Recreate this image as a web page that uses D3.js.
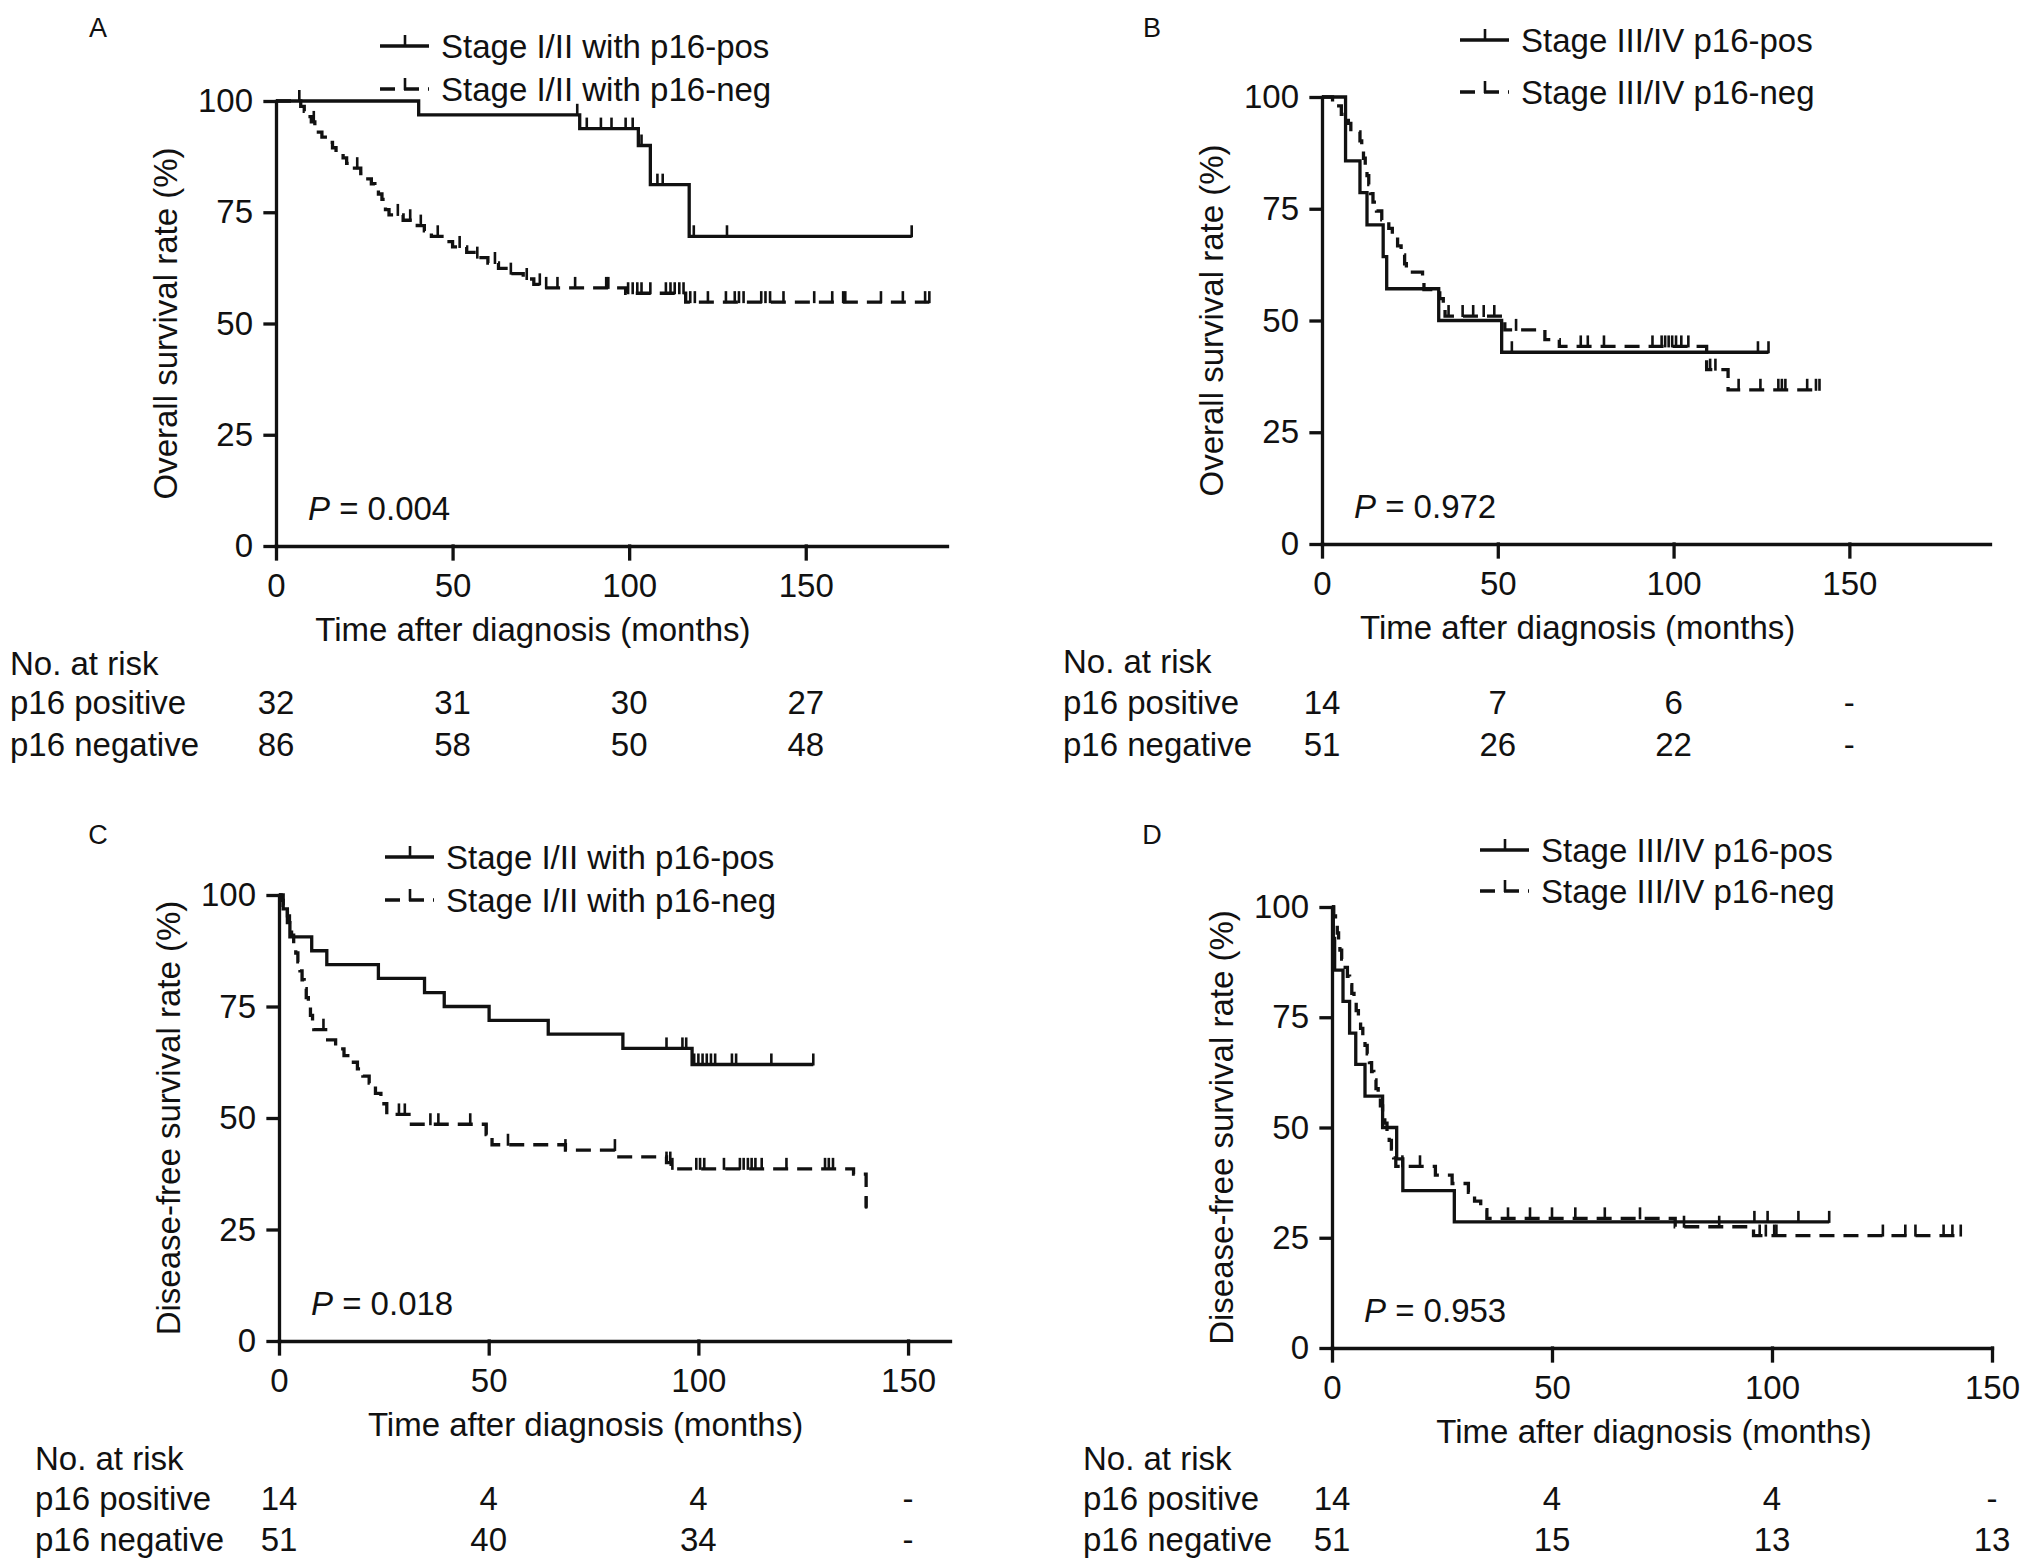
<!DOCTYPE html>
<html>
<head>
<meta charset="utf-8">
<script src="https://cdn.jsdelivr.net/npm/d3@7"></script>
<style>
  html, body { margin: 0; padding: 0; background: #fff; }
  svg { display: block; font-family: 'Liberation Sans', Arial, sans-serif; }
  .km-axis path, .km-axis line { stroke: #111; stroke-width: 3.3; stroke-linecap: square; }
  .km-axis text { font-size: 33px; fill: #111; font-family: 'Liberation Sans', Arial, sans-serif; }
  .km-text { font-size: 33px; fill: #111; }
  .km-letter { font-size: 27px; fill: #111; }
  .km-curve { fill: none; stroke: #111; stroke-width: 3.3; }
  .km-censor { stroke: #111; stroke-width: 2.6; }
</style>
</head>
<body>
<div id="chart"></div>
<script>
  'use strict';

  // ─── Data ────────────────────────────────────────────────────────────────────

  const X_TICKS = [0, 50, 100, 150];
  const Y_TICKS = [0, 25, 50, 75, 100];
  const AT_RISK_TIMES = [0, 50, 100, 150];
  const GROUP_NAMES = ['p16 positive', 'p16 negative'];

  // [months, survival % after the event]
  const A_POS_STEPS = [[40.4, 96.9], [86, 93.8], [102.6, 90.0], [106, 81.2], [117, 69.6]];
  const A_POS_CENSOR = [6.6, 85.3, 88, 92, 95, 99, 101, 103.5, 108, 109.5, 118.3, 127.7, 180];
  const A_NEG_STEPS = [
    [7, 98.8], [8, 97.7], [9, 96.5], [10, 95.3], [11, 94.2], [12, 93.0], [13, 91.9], [15, 90.7],
    [16, 89.5], [17, 88.4], [19, 87.2], [20, 86.0], [21, 84.9], [24, 83.7], [26, 82.5], [27, 81.4],
    [28, 80.2], [29, 79.1], [30, 77.9], [31, 75.6], [32, 74.4], [36, 73.2], [40, 72.0], [42, 70.8],
    [44, 69.6], [47, 68.4], [50, 67.2], [54, 66.0], [57, 64.8], [60, 63.6], [63, 62.4], [66, 61.2],
    [70, 60.0], [73, 58.8], [76, 58.0], [99, 56.8], [116, 54.8],
  ];
  const A_NEG_CENSOR = [
    10.7, 23, 34.5, 38, 41, 45.8, 52, 57, 62, 66.5, 71, 74.7, 76.5, 79.7, 84.7, 93.5, 94.1, 99.7,
    101, 102.3, 103.5, 106, 110.4, 111.7, 112.9, 114.2, 115.4, 117.3, 118.6, 122.3, 127.4, 129.9,
    131.1, 132.4, 137.4, 138.6, 139.9, 143.7, 152.4, 157.5, 160.6, 161.2, 171.3, 177.5, 183.8, 185,
  ];

  const B_POS_STEPS = [[6.7, 85.7], [10.8, 78.6], [12.8, 71.4], [17.4, 64.3], [18.4, 57.1], [33.2, 50.0], [51.1, 42.9]];
  const B_POS_CENSOR = [54, 124, 127];
  const B_NEG_STEPS = [
    [3, 98.0], [5.5, 96.1], [7.5, 94.1], [8.2, 92.2], [10.8, 90.2], [11.3, 88.2], [11.8, 86.3],
    [12.3, 84.3], [12.8, 82.4], [13.3, 80.4], [13.8, 78.4], [14.5, 76.5], [15.5, 74.5], [17, 72.5],
    [19, 70.6], [20, 68.6], [21.5, 66.7], [22.5, 64.7], [23.5, 62.7], [24, 60.8], [28.6, 58.8],
    [29, 56.9], [33.5, 54.9], [34.5, 52.9], [35, 51.0], [52, 47.9], [63.4, 45.7], [67.5, 44.2],
    [109.4, 39.0], [115.5, 34.5],
  ];
  const B_NEG_CENSOR = [
    36, 40, 43, 46, 49, 55.2, 73.6, 75.6, 80.2, 94, 96.6, 97.6, 98.6, 99.6, 100.7, 102.2, 104.2,
    110.4, 111.9, 118.5, 124.7, 129.8, 130.8, 131.8, 138, 140.5, 141.5,
  ];

  const C_POS_STEPS = [
    [1, 96.9], [2, 93.8], [2.6, 90.6], [7.8, 87.5], [11.4, 84.4], [23.7, 81.3], [34.7, 78.1],
    [39.4, 75.0], [50.1, 71.9], [64.2, 68.8], [82, 65.6], [98.5, 62.0],
  ];
  const C_POS_CENSOR = [92.4, 96.2, 97.1, 99, 100, 101, 102, 103, 104, 108, 109, 117.4, 127.4];
  const C_NEG_STEPS = [
    [0.5, 98.8], [1, 97.7], [1.5, 96.5], [2, 95.3], [2.5, 93.0], [3, 91.0], [3.5, 89.0], [4, 87.0],
    [4.5, 85.0], [5, 83.0], [5.5, 81.0], [6, 79.0], [6.5, 77.0], [7, 75.0], [7.5, 73.0], [8, 71.5],
    [8.3, 69.8], [11.6, 67.5], [13.5, 65.5], [15.5, 64.0], [17.2, 62.5], [18.7, 61.0], [20, 59.4],
    [21.5, 57.8], [23, 55.5], [24.3, 53.2], [25.7, 50.8], [31, 48.6], [49.4, 46.3], [50.8, 44.0],
    [68.3, 42.8], [80.6, 41.3], [92.4, 40.0], [93.5, 38.6], [137, 37.4], [140, 29.9],
  ];
  const C_NEG_CENSOR = [
    10.6, 28.6, 30, 36.1, 38, 45.6, 49.4, 54.6, 68.3, 80.1, 92.4, 93.3, 93.8, 99.5, 100.4, 101.4,
    106.1, 109.9, 110.8, 111.8, 112.7, 113.6, 115.1, 121, 130.2, 131.1, 132.1, 140,
  ];

  const D_POS_STEPS = [
    [0.3, 92.9], [0.6, 85.7], [2.5, 78.6], [4, 71.4], [5.4, 64.3], [7.5, 57.1], [11.5, 50.0],
    [14.7, 42.9], [16.1, 35.7], [27.8, 28.6],
  ];
  const D_POS_CENSOR = [96, 99, 106, 113];
  const D_NEG_STEPS = [
    [0.4, 98.0], [0.8, 96.1], [1.2, 94.1], [1.5, 92.2], [1.8, 90.2], [2.2, 88.2], [3, 86.3],
    [3.5, 84.3], [4, 82.4], [4.5, 80.4], [5, 78.4], [5.5, 76.5], [6, 74.5], [6.5, 72.5], [7, 70.6],
    [7.5, 68.6], [8, 66.7], [8.5, 64.7], [9, 62.7], [9.5, 60.8], [10, 58.8], [10.5, 56.9],
    [11, 54.9], [11.5, 52.9], [12, 51.0], [12.5, 49.0], [13, 47.1], [13.5, 45.1], [14, 43.1],
    [14.5, 41.2], [23.5, 39.2], [27.3, 37.3], [31, 35.3], [32.4, 33.3], [33.8, 31.4], [35.2, 29.4],
    [78, 27.5], [95.8, 25.5],
  ];
  const D_NEG_CENSOR = [
    16, 20, 40, 45, 50, 55.3, 62, 70, 80, 88, 97.2, 98.6, 100.5, 101, 125.2, 130.3, 132.6, 139, 141, 142.9,
  ];

  const A_RISK = [['32', '31', '30', '27'], ['86', '58', '50', '48']];
  const B_RISK = [['14', '7', '6', '-'], ['51', '26', '22', '-']];
  const C_RISK = [['14', '4', '4', '-'], ['51', '40', '34', '-']];
  const D_RISK = [['14', '4', '4', '-'], ['51', '15', '13', '13']];

  const OS_LABEL = 'Overall survival rate (%)';
  const DFS_LABEL = 'Disease-free survival rate (%)';
  const X_LABEL = 'Time after diagnosis (months)';

  // ─── Layout per panel ────────────────────────────────────────────────────────

  const PANELS = [
    {
      letter: 'A', letterPos: [98, 37], xRange: [276, 947], xMax: 190, yRange: [546, 101],
      legendX: 380, legendY: [46, 89], legend: ['Stage I/II with p16-pos', 'Stage I/II with p16-neg'],
      tableX: 10, tableY: [675, 714, 756], yLabel: OS_LABEL, p: '0.004',
      series: [{ steps: A_POS_STEPS, censor: A_POS_CENSOR }, { steps: A_NEG_STEPS, censor: A_NEG_CENSOR }],
      risk: A_RISK,
    },
    {
      letter: 'B', letterPos: [1152, 37], xRange: [1322, 1990], xMax: 190, yRange: [544, 97],
      legendX: 1460, legendY: [40, 92], legend: ['Stage III/IV p16-pos', 'Stage III/IV p16-neg'],
      tableX: 1063, tableY: [673, 714, 756], yLabel: OS_LABEL, p: '0.972',
      series: [{ steps: B_POS_STEPS, censor: B_POS_CENSOR }, { steps: B_NEG_STEPS, censor: B_NEG_CENSOR }],
      risk: B_RISK,
    },
    {
      letter: 'C', letterPos: [98, 844], xRange: [279, 950], xMax: 160, yRange: [1341, 895],
      legendX: 385, legendY: [857, 900], legend: ['Stage I/II with p16-pos', 'Stage I/II with p16-neg'],
      tableX: 35, tableY: [1470, 1510, 1551], yLabel: DFS_LABEL, p: '0.018',
      series: [{ steps: C_POS_STEPS, censor: C_POS_CENSOR }, { steps: C_NEG_STEPS, censor: C_NEG_CENSOR }],
      risk: C_RISK,
    },
    {
      letter: 'D', letterPos: [1152, 844], xRange: [1332, 1992], xMax: 150, yRange: [1348, 907],
      legendX: 1480, legendY: [850, 891], legend: ['Stage III/IV p16-pos', 'Stage III/IV p16-neg'],
      tableX: 1083, tableY: [1470, 1510, 1551], yLabel: DFS_LABEL, p: '0.953',
      series: [{ steps: D_POS_STEPS, censor: D_POS_CENSOR }, { steps: D_NEG_STEPS, censor: D_NEG_CENSOR }],
      risk: D_RISK,
    },
  ];

  const DASH = '15,9';
  const CENSOR_LEN = 11;

  // ─── Helpers ─────────────────────────────────────────────────────────────────

  function survivalAt(steps, t) {
    let s = 100;
    for (const [ts, v] of steps) {
      if (ts <= t) s = v; else break;
    }
    return s;
  }

  function curvePoints(steps, censor) {
    const last = steps[steps.length - 1];
    const end = Math.max(last[0], d3.max(censor));
    return [[0, 100], ...steps, [end, last[1]]];
  }

  // ─── Rendering ───────────────────────────────────────────────────────────────

  const svg = d3.select('#chart')
    .append('svg')
    .attr('width', 2031)
    .attr('height', 1566);

  PANELS.forEach(drawPanel);

  function drawPanel(cfg) {
    const g = svg.append('g').attr('class', `km-panel km-panel-${cfg.letter}`);

    const x = d3.scaleLinear().domain([0, cfg.xMax]).range(cfg.xRange);
    const y = d3.scaleLinear().domain([0, 100]).range(cfg.yRange);

    // Panel letter
    g.append('text')
      .attr('class', 'km-letter')
      .attr('x', cfg.letterPos[0])
      .attr('y', cfg.letterPos[1])
      .attr('text-anchor', 'middle')
      .text(cfg.letter);

    // Axes
    g.append('g')
      .attr('class', 'km-axis')
      .attr('transform', `translate(0,${y(0)})`)
      .call(d3.axisBottom(x).tickValues(X_TICKS).tickSize(13).tickSizeOuter(0).tickPadding(15));

    g.append('g')
      .attr('class', 'km-axis')
      .attr('transform', `translate(${x(0)},0)`)
      .call(d3.axisLeft(y).tickValues(Y_TICKS).tickSize(11).tickSizeOuter(0).tickPadding(12));

    g.selectAll('.km-axis .domain').attr('stroke', '#111');

    // Axis titles
    g.append('text')
      .attr('class', 'km-text')
      .attr('transform', `translate(${x(0) - 99},${(y(0) + y(100)) / 2}) rotate(-90)`)
      .attr('text-anchor', 'middle')
      .text(cfg.yLabel);

    g.append('text')
      .attr('class', 'km-text')
      .attr('x', (x(0) + x(150)) / 2 - 8)
      .attr('y', y(0) + 95)
      .attr('text-anchor', 'middle')
      .text(X_LABEL);

    // Curves
    const line = d3.line()
      .x(d => x(d[0]))
      .y(d => y(d[1]))
      .curve(d3.curveStepAfter);

    cfg.series.forEach((s, i) => {
      g.append('path')
        .attr('class', 'km-curve')
        .attr('d', line(curvePoints(s.steps, s.censor)))
        .attr('stroke-dasharray', i === 1 ? DASH : null);

      g.selectAll(null)
        .data(s.censor)
        .join('line')
        .attr('class', 'km-censor')
        .attr('x1', t => x(t))
        .attr('x2', t => x(t))
        .attr('y1', t => y(survivalAt(s.steps, t)) + 1)
        .attr('y2', t => y(survivalAt(s.steps, t)) - CENSOR_LEN);
    });

    // Legend
    cfg.legend.forEach((label, i) => {
      const ly = cfg.legendY[i];
      g.append('line')
        .attr('class', 'km-curve')
        .attr('x1', cfg.legendX).attr('x2', cfg.legendX + 49)
        .attr('y1', ly).attr('y2', ly)
        .attr('stroke-dasharray', i === 1 ? DASH : null);
      g.append('line')
        .attr('class', 'km-censor')
        .attr('x1', cfg.legendX + 25).attr('x2', cfg.legendX + 25)
        .attr('y1', ly + 1).attr('y2', ly - CENSOR_LEN);
      g.append('text')
        .attr('class', 'km-text')
        .attr('x', cfg.legendX + 61)
        .attr('y', ly + 12)
        .text(label);
    });

    // P value
    const pText = g.append('text')
      .attr('class', 'km-text')
      .attr('x', x(0) + 32)
      .attr('y', y(0) - 26);
    pText.append('tspan').attr('font-style', 'italic').text('P');
    pText.append('tspan').text(` = ${cfg.p}`);

    // Number at risk table
    g.append('text')
      .attr('class', 'km-text')
      .attr('x', cfg.tableX)
      .attr('y', cfg.tableY[0])
      .text('No. at risk');

    GROUP_NAMES.forEach((name, r) => {
      g.append('text')
        .attr('class', 'km-text')
        .attr('x', cfg.tableX)
        .attr('y', cfg.tableY[r + 1])
        .text(name);

      g.selectAll(null)
        .data(cfg.risk[r])
        .join('text')
        .attr('class', 'km-text')
        .attr('x', (d, j) => x(AT_RISK_TIMES[j]))
        .attr('y', cfg.tableY[r + 1])
        .attr('text-anchor', 'middle')
        .text(d => d);
    });
  }
</script>
</body>
</html>
